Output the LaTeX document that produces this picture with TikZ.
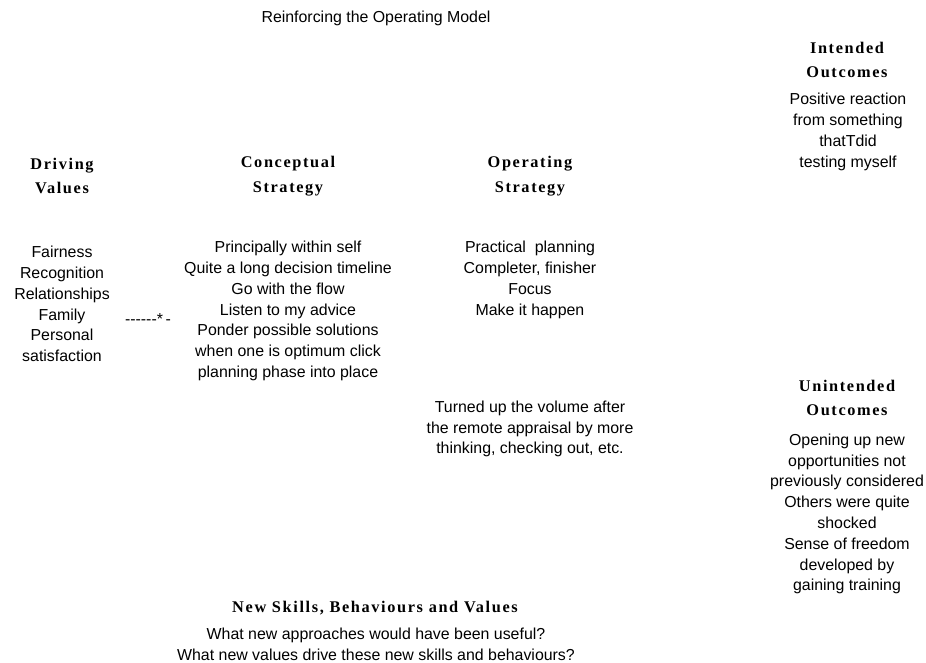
\documentclass[tikz,border=0pt]{standalone}
\usepackage{fontspec}
\setmainfont{Liberation Sans}
\newfontfamily\headfamily[LetterSpace=10]{Liberation Serif}
\begin{document}
\begin{tikzpicture}[x=1pt,y=-1pt,
  bodytext/.style={align=center,inner sep=0pt,font=\fontsize{15.9}{20.8}\selectfont},
  headtext/.style={align=center,inner sep=0pt,font=\headfamily\bfseries\fontsize{16.3}{24.5}\selectfont}]
\useasboundingbox[fill=white] (0,0) rectangle (926,662);
\node[bodytext] (title) at (376,18) {Reinforcing the Operating Model};
% Driving values
\node[headtext] (dvh) at (62,176) {Driving\\Values};
\node[bodytext] (dvl) at (62,304) {Fairness\\Recognition\\Relationships\\Family\\Personal\\satisfaction};
\node[bodytext] (dash) at (148,319) {{-}{-}{-}{-}{-}{-}*\,{-}};
% Conceptual strategy
\node[headtext] (csh) at (288,176) {Conceptual\\Strategy};
\node[bodytext] (csl) at (288,311) {Principally within self\\Quite a long decision timeline\\Go with the flow\\Listen to my advice\\Ponder possible solutions\\when one is optimum click\\planning phase into place};
% Operating strategy
\node[headtext] (osh) at (530,176) {Operating\\Strategy};
\node[bodytext] (osl) at (530,280) {Practical\ \ planning\\Completer, finisher\\Focus\\Make it happen};
\node[bodytext] (osn) at (530,429) {Turned up the volume after\\the remote appraisal by more\\thinking, checking out, etc.};
% Intended outcomes
\node[headtext] (ioh) at (847,60) {Intended\\Outcomes};
\node[bodytext] (iol) at (848,132) {Positive reaction\\from something\\thatTdid\\testing myself};
% Unintended outcomes
\node[headtext] (uoh) at (847,398) {Unintended\\Outcomes};
\node[bodytext] (uol) at (847,514) {Opening up new\\opportunities not\\previously considered\\Others were quite\\shocked\\Sense of freedom\\developed by\\gaining training};
% New skills
\node[headtext] (nsh) at (375,608) {New Skills, Behaviours and Values};
\node[bodytext] (nsl) at (376,644) {What new approaches would have been useful?\\What new values drive these new skills and behaviours?};
\end{tikzpicture}
\end{document}
